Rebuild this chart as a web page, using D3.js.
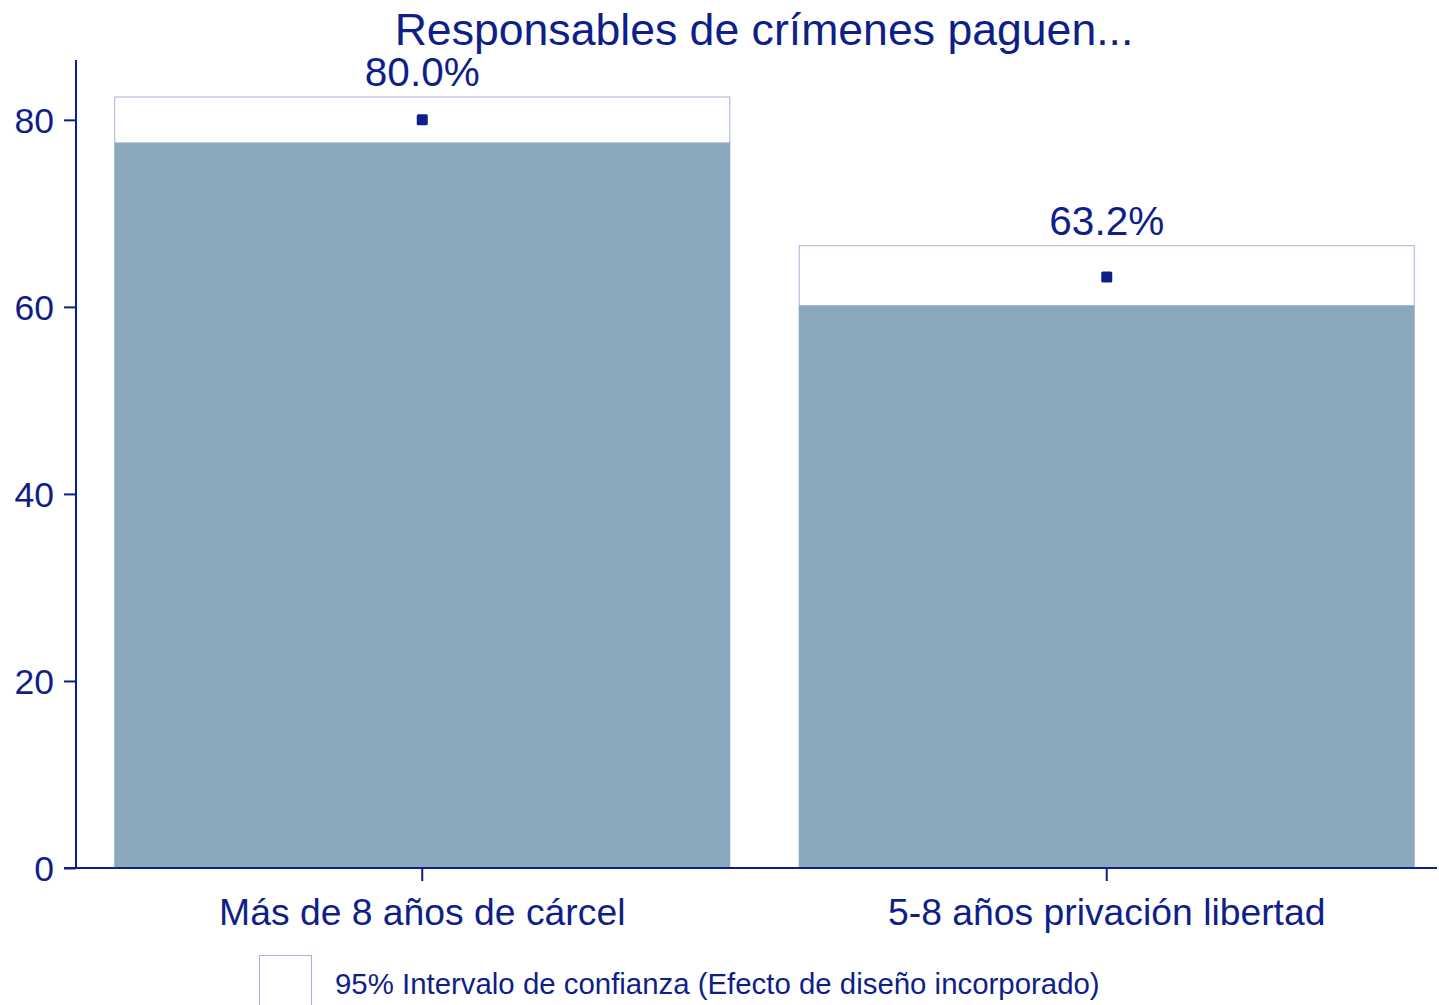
<!DOCTYPE html>
<html>
<head>
<meta charset="utf-8">
<script src="https://cdn.jsdelivr.net/npm/d3@7"></script>
<style>
  body { margin: 0; background: #fff; }
  svg { display: block; font-family: "Liberation Sans", Arial, sans-serif; }
</style>
</head>
<body>
<div id="chart"></div>
<script>
// data
var categories = ['Más de 8 años de cárcel', '5-8 años privación libertad'];
var estimates = [80.0, 63.2];
var ciLower = [77.6, 60.2];
var ciUpper = [82.5, 66.6];
var yTicks = [0, 20, 40, 60, 80];
var titleText = 'Responsables de crímenes paguen...';
var legendText = '95% Intervalo de confianza (Efecto de diseño incorporado)';

var width = 1439, height = 1005;
var navy = '#0f1f8a';
var barColor = '#8ba9bc';
var ciStroke = '#aab0dc';

var svg = d3.select('#chart').append('svg')
    .attr('width', width)
    .attr('height', height);

var x = d3.scaleBand()
    .domain(categories)
    .range([80, 1449])
    .paddingInner(0.1)
    .paddingOuter(0.05);

var y = d3.scaleLinear()
    .domain([0, 86.4])
    .range([868, 60]);

// bars go up to the lower CI bound
svg.selectAll('.bar')
    .data(categories)
    .enter()
    .append('rect')
    .attr('class', 'bar')
    .attr('x', function(d) { return x(d); })
    .attr('width', x.bandwidth())
    .attr('y', function(d, i) { return y(ciLower[i]); })
    .attr('height', function(d, i) { return y(0) - y(ciLower[i]); })
    .style('fill', barColor);

// white CI box on top
svg.selectAll('.ci')
    .data(categories)
    .enter()
    .append('rect')
    .attr('class', 'ci')
    .attr('x', function(d) { return x(d) + 0.5; })
    .attr('width', x.bandwidth() - 1)
    .attr('y', function(d, i) { return y(ciUpper[i]) + 0.5; })
    .attr('height', function(d, i) { return y(ciLower[i]) - y(ciUpper[i]); })
    .style('fill', '#fff')
    .style('stroke', ciStroke)
    .style('stroke-width', 1);

// point estimates
svg.selectAll('.pt')
    .data(categories)
    .enter()
    .append('rect')
    .attr('class', 'pt')
    .attr('x', function(d) { return x(d) + x.bandwidth() / 2 - 5.5; })
    .attr('y', function(d, i) { return y(estimates[i]) - 5.5; })
    .attr('width', 11)
    .attr('height', 11)
    .attr('rx', 1.5)
    .style('fill', navy);

// value labels
svg.selectAll('.val')
    .data(categories)
    .enter()
    .append('text')
    .attr('class', 'val')
    .attr('x', function(d) { return x(d) + x.bandwidth() / 2; })
    .attr('y', function(d, i) { return y(ciUpper[i]) - 10; })
    .style('text-anchor', 'middle')
    .style('font-size', '40.5px')
    .style('fill', navy)
    .text(function(d, i) { return estimates[i].toFixed(1) + '%'; });

// y axis
var yAxis = svg.append('g')
    .attr('transform', 'translate(76,0)')
    .call(d3.axisLeft(y).tickValues(yTicks).tickSize(12).tickPadding(10).tickFormat(d3.format('d')));
yAxis.select('.domain').attr('d', 'M0,' + y(86.4) + 'V' + y(0));
yAxis.selectAll('line, path').style('stroke', navy).style('stroke-width', 2);
yAxis.selectAll('text').style('font-size', '35.5px').style('fill', navy)
    .attr('dy', '0.36em')
    .style('font-family', '"Liberation Sans", Arial, sans-serif');

// x axis
var xAxis = svg.append('g')
    .attr('transform', 'translate(0,' + y(0) + ')')
    .call(d3.axisBottom(x).tickSize(13));
xAxis.select('.domain').attr('d', 'M64,0H1437');
xAxis.selectAll('line, path').style('stroke', navy).style('stroke-width', 2);
xAxis.selectAll('text').style('font-size', '37.3px').style('fill', navy)
    .attr('y', 57)
    .attr('dy', 0)
    .style('font-family', '"Liberation Sans", Arial, sans-serif');

// title
svg.append('text')
    .attr('x', 764)
    .attr('y', 45)
    .style('text-anchor', 'middle')
    .style('font-size', '44.6px')
    .style('fill', navy)
    .text(titleText);

// legend
svg.append('rect')
    .attr('x', 259.5)
    .attr('y', 955.5)
    .attr('width', 52)
    .attr('height', 60)
    .style('fill', '#fff')
    .style('stroke', ciStroke);

svg.append('text')
    .attr('x', 335)
    .attr('y', 994)
    .style('font-size', '29.4px')
    .style('fill', navy)
    .text(legendText);
</script>
</body>
</html>
